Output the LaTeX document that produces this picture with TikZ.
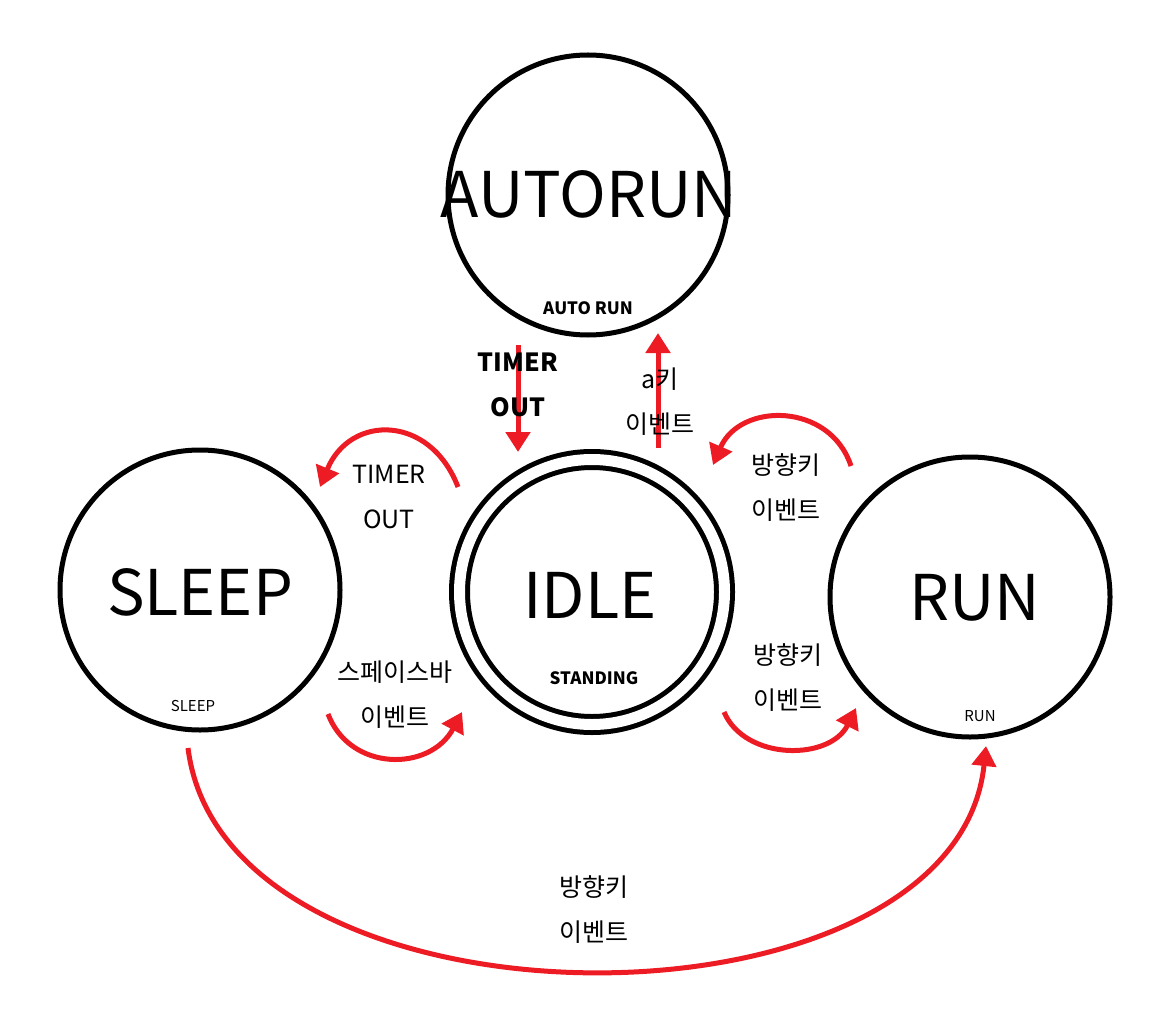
\documentclass[tikz,border=0pt]{standalone}
\usepackage{fontspec}
\setmainfont{Noto Sans CJK KR}
\usepackage{xcolor}
\usepackage{tikz}
\usetikzlibrary{arrows.meta}
\definecolor{evred}{RGB}{237,28,36}

\begin{document}
\begin{tikzpicture}[x=1pt,y=-1pt,
    state/.style={draw,circle,line width=5pt,minimum size=280pt,inner sep=0pt},
    bigname/.style={font=\fontsize{63}{72}\selectfont},
    subname/.style={font=\fontsize{15}{18}\selectfont},
    subbold/.style={font=\fontsize{17}{20}\selectfont\bfseries},
    evlabel/.style={font=\fontsize{25}{45}\selectfont,align=center},
    trans/.style={evred,line width=5pt,-{Triangle[length=20pt,width=24pt]}}]
    \useasboundingbox (0,0) rectangle (1174,1016);

    % States
    \node[state] (autorun) at (588,195) {};
    \node[state,line width=5pt,double,double distance=11pt,minimum size=265pt] (idle) at (592,592) {};
    \node[state] (sleep) at (200,590) {};
    \node[state] (run) at (970,597) {};

    % State names
    \node[bigname] (autorunT) at (589,194) {AUTORUN};
    \node[subbold] (autorunS) at (588,308) {AUTO RUN};
    \node[bigname] (idleT) at (590,595) {IDLE};
    \node[subbold] (idleS) at (594,678) {STANDING};
    \node[bigname] (sleepT) at (200,592) {SLEEP};
    \node[subname] (sleepS) at (193,706) {SLEEP};
    \node[bigname] (runT) at (975,598) {RUN};
    \node[subname] (runS) at (980,716) {RUN};

    % Arrow ends
    \coordinate (ai1) at (518,345);  \coordinate (ai2) at (518,452);
    \coordinate (ia1) at (658,448);  \coordinate (ia2) at (658,333);
    \coordinate (is1) at (458,487);  \coordinate (is2) at (320,487);
    \coordinate (si1) at (328,714);  \coordinate (si2) at (462,712);
    \coordinate (ri1) at (851,466);  \coordinate (ri2) at (713,465);
    \coordinate (ir1) at (724,712);  \coordinate (ir2) at (856,708);
    \coordinate (sr1) at (188,748);  \coordinate (sr2) at (986,746);

    % Transitions
    \draw[trans] (ai1) -- (ai2);
    \draw[trans] (ia1) -- (ia2);
    \draw[trans] (is1) .. controls (430,414) and (350,414) .. (is2);
    \draw[trans] (si1) .. controls (350,772) and (430,772) .. (si2);
    \draw[trans] (ri1) .. controls (830,402) and (740,402) .. (ri2);
    \draw[trans] (ir1) .. controls (745,761) and (830,761) .. (ir2);
    \draw[trans] (sr1) .. controls (225,1045) and (955,1045) .. (sr2);

    % Event labels
    \node[evlabel,font=\fontsize{25}{45}\selectfont\bfseries] (lblTO) at (518,385) {TIMER\\OUT};
    \node[evlabel] (lblA) at (660,402) {a키\\이벤트};
    \node[evlabel] (lblTO2) at (389,497) {TIMER\\OUT};
    \node[evlabel] (lblSpace) at (395,695) {스페이스바\\이벤트};
    \node[evlabel] (lblDir1) at (786,488) {방향키\\이벤트};
    \node[evlabel] (lblDir2) at (788,678) {방향키\\이벤트};
    \node[evlabel] (lblDir3) at (594,910) {방향키\\이벤트};
\end{tikzpicture}
\end{document}
